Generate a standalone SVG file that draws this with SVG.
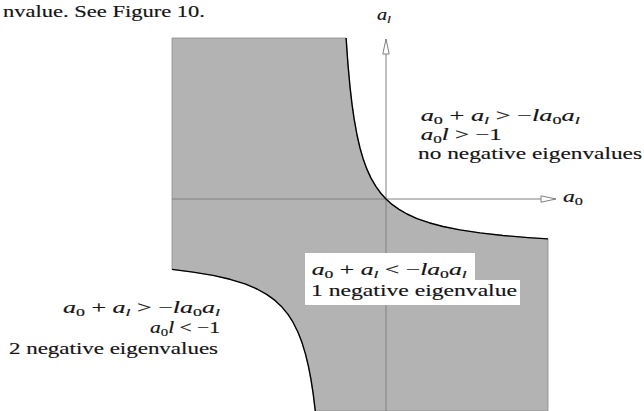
<svg xmlns="http://www.w3.org/2000/svg" width="644" height="411" viewBox="0 0 644 411">
<style>
.t{font-family:"Liberation Serif","Times New Roman",serif;font-size:16px;fill:#141414;stroke:#141414;stroke-width:0.15}
.i{font-style:italic}
.s{font-size:11px}
.region{fill:#b3b3b3;stroke:#8c8c8c;stroke-width:0.8}
.curve{fill:none;stroke:#000;stroke-width:1.4;stroke-linejoin:round}
.axis{stroke:#808080;stroke-width:1;fill:none}
.box{fill:#fff}
</style>
<defs>
<marker id="arr" markerUnits="userSpaceOnUse" markerWidth="18" markerHeight="10" refX="16" refY="5" orient="auto">
<path d="M1,1.8 L16,5 L1,8.2 Z" fill="#fff" stroke="#808080" stroke-width="1"/>
</marker>
</defs>
<rect width="644" height="411" fill="#fff"/>
<text class="t" x="3" y="17" textLength="202" lengthAdjust="spacingAndGlyphs">nvalue. See Figure 10.</text>
<g id="region">
<path class="region" d="M172,38 L346.1,38 L348,64.7 L350,86.8 L352,104.2 L354,118.2 L357,135 L360,148 L363,158.4 L367,169.4 L371,178.1 L376,186.7 L381,193.5 L386,199 L392,204.4 L399,209.4 L407,214 L417,218.6 L429,222.7 L443,226.5 L460,229.9 L480,232.9 L503,235.5 L528,237.6 L548,238.9 L548,411 L315.3,411 L313.2,393.9 L311,379.7 L308.5,366.7 L305.5,354.1 L302,342.6 L298,332.3 L293,322.2 L288,314.4 L282,307.1 L275,300.4 L267,294.6 L257,289 L245,283.9 L230,279.3 L213,275.4 L193,272.1 L172,269.4 Z"/>
</g>
<g id="connectors">
<line class="axis" x1="172" y1="199" x2="556" y2="199" marker-end="url(#arr)"/>
<line class="axis" x1="386" y1="411" x2="386" y2="39" marker-end="url(#arr)"/>
</g>
<g id="curves">
<polyline class="curve" points="346.1,38 348,64.7 350,86.8 352,104.2 354,118.2 357,135 360,148 363,158.4 367,169.4 371,178.1 376,186.7 381,193.5 386,199 392,204.4 399,209.4 407,214 417,218.6 429,222.7 443,226.5 460,229.9 480,232.9 503,235.5 528,237.6 548,238.9"/>
<polyline class="curve" points="315.3,411 313.2,393.9 311,379.7 308.5,366.7 305.5,354.1 302,342.6 298,332.3 293,322.2 288,314.4 282,307.1 275,300.4 267,294.6 257,289 245,283.9 230,279.3 213,275.4 193,272.1 172,269.4"/>
</g>
<g id="label-al">
<text class="t" x="377" y="20" textLength="14" lengthAdjust="spacingAndGlyphs"><tspan class="i">a</tspan><tspan class="s i" dy="3">l</tspan></text>
</g>
<g id="label-a0">
<text class="t" x="563" y="202" textLength="20" lengthAdjust="spacingAndGlyphs"><tspan class="i">a</tspan><tspan class="s" dy="3">0</tspan></text>
</g>
<g id="region-none">
<text class="t" x="420.7" y="121" textLength="159" lengthAdjust="spacingAndGlyphs"><tspan class="i">a</tspan><tspan class="s" dy="3">0</tspan><tspan dy="-3"> + </tspan><tspan class="i">a</tspan><tspan class="s i" dy="3">l</tspan><tspan dy="-3"> &gt; −</tspan><tspan class="i">la</tspan><tspan class="s" dy="3">0</tspan><tspan class="i" dy="-3">a</tspan><tspan class="s i" dy="3">l</tspan></text>
<text class="t" x="420.7" y="140" textLength="81" lengthAdjust="spacingAndGlyphs"><tspan class="i">a</tspan><tspan class="s" dy="3">0</tspan><tspan class="i" dy="-3">l</tspan> &gt; −1</text>
<text class="t" x="418" y="158.5" textLength="224" lengthAdjust="spacingAndGlyphs">no negative eigenvalues</text>
</g>
<g id="region-one">
<rect class="box" x="305" y="253" width="170" height="28"/>
<rect class="box" x="305" y="280" width="215" height="25"/>
<text class="t" x="311.7" y="275" textLength="155" lengthAdjust="spacingAndGlyphs"><tspan class="i">a</tspan><tspan class="s" dy="3">0</tspan><tspan dy="-3"> + </tspan><tspan class="i">a</tspan><tspan class="s i" dy="3">l</tspan><tspan dy="-3"> &lt; −</tspan><tspan class="i">la</tspan><tspan class="s" dy="3">0</tspan><tspan class="i" dy="-3">a</tspan><tspan class="s i" dy="3">l</tspan></text>
<text class="t" x="311" y="296" textLength="206" lengthAdjust="spacingAndGlyphs">1 negative eigenvalue</text>
</g>
<g id="region-two">
<text class="t" x="63" y="313" textLength="157" lengthAdjust="spacingAndGlyphs"><tspan class="i">a</tspan><tspan class="s" dy="3">0</tspan><tspan dy="-3"> + </tspan><tspan class="i">a</tspan><tspan class="s i" dy="3">l</tspan><tspan dy="-3"> &gt; −</tspan><tspan class="i">la</tspan><tspan class="s" dy="3">0</tspan><tspan class="i" dy="-3">a</tspan><tspan class="s i" dy="3">l</tspan></text>
<text class="t" x="150" y="333" textLength="70" lengthAdjust="spacingAndGlyphs"><tspan class="i">a</tspan><tspan class="s" dy="3">0</tspan><tspan class="i" dy="-3">l</tspan> &lt; −1</text>
<text class="t" x="9" y="354" textLength="209" lengthAdjust="spacingAndGlyphs">2 negative eigenvalues</text>
</g>
</svg>
